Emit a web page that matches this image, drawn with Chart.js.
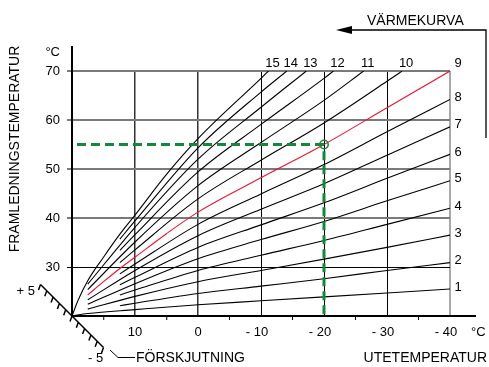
<!DOCTYPE html>
<html>
<head>
<meta charset="utf-8">
<script src="https://cdn.jsdelivr.net/npm/chart.js@4/dist/chart.umd.min.js"></script>
<style>
  html, body { margin: 0; padding: 0; background: #fff; }
</style>
</head>
<body>
<canvas id="chart" width="489" height="367"></canvas>
<script>
/* ================================
   Data
   ================================ */
const curveNames = ["1", "2", "3", "4", "5", "6", "7", "8", "9", "10", "11", "12", "13", "14", "15"];

// outdoor temp (x) and supply temp (y) for each heating curve
const k1x = [20, 17.5, 10, 0, -10, -20, -30, -40];
const k1y = [20, 20.5, 21.3, 22.3, 23.1, 23.9, 24.7, 25.5];
const k2x = [12.4, 10, 0, -10, -20, -30, -40];
const k2y = [22.1, 22.6, 24.6, 26.1, 27.6, 29.3, 30.9];
const k3x = [17.5, 10, 0, -10, -20, -30, -40];
const k3y = [21.4, 24.0, 27.0, 29.3, 31.6, 34.0, 36.5];
const k4x = [12.4, 10, 0, -10, -20, -30, -40];
const k4y = [24.3, 25.3, 29.3, 32.4, 35.4, 38.7, 42.0];
const k5x = [17.5, 10, 0, -10, -20, -30, -40];
const k5y = [22.4, 26.6, 31.7, 35.6, 39.3, 43.5, 47.6];
const k6x = [12.4, 10, 0, -10, -20, -30, -40];
const k6y = [26.4, 27.9, 34.0, 38.6, 43.1, 48.1, 53.0];
const k7x = [17.5, 10, 0, -10, -20, -30, -40];
const k7y = [23.3, 29.3, 36.4, 41.8, 47.0, 52.8, 58.6];
const k8x = [12.4, 10, 0, -10, -20, -30, -40];
const k8y = [28.6, 30.6, 38.7, 44.9, 50.9, 57.6, 64.2];
const k9x = [17.5, 15, 12.4, 10, 5, 0, -10, -20, -30, -40];
const k9y = [24.3, 27.0, 29.7, 32.0, 36.8, 41.2, 48.2, 55.0, 62.5, 70];
const k10x = [12.4, 10, 0, -10, -20, -30, -32.4];
const k10y = [30.9, 33.5, 43.9, 51.8, 59.4, 67.9, 70];
const k11x = [17.5, 10, 0, -10, -20, -26.3];
const k11y = [25.4, 35.1, 46.6, 55.4, 64.0, 70];
const k12x = [12.4, 10, 0, -10, -20, -21.5];
const k12y = [33.4, 36.6, 49.4, 59.1, 68.5, 70];
const k13x = [17.5, 10, 0, -10, -17.2];
const k13y = [26.5, 38.1, 52.0, 62.6, 70];
const k14x = [12.4, 10, 0, -10, -14.1];
const k14y = [35.7, 39.4, 54.3, 65.7, 70];
const k15x = [20, 19, 17.5, 15, 12.4, 10, 5, 0, -10, -11.2];
const k15y = [20, 23.3, 27.2, 32, 36.7, 40.6, 48.9, 56.2, 68.5, 70];

const curvesX = [k1x, k2x, k3x, k4x, k5x, k6x, k7x, k8x, k9x, k10x, k11x, k12x, k13x, k14x, k15x];
const curvesY = [k1y, k2y, k3y, k4y, k5y, k6y, k7y, k8y, k9y, k10y, k11y, k12y, k13y, k14y, k15y];
const redCurve = "9";

// example reading: -20 °C outside gives 55 °C on curve 9
const markOutdoor = -20;
const markSupply = 55;

const xLabelValues = [10, 0, -10, -20, -30, -40];
const shiftLabels = ["+ 5", "- 5"];

const FONT = "'Liberation Sans', Arial, Helvetica, sans-serif";
const GREEN = "#13883a";
const RED = "#e8142e";

/* ================================
   Datasets
   ================================ */
const datasets = [];

datasets.push({
  label: "mark-h",
  data: [{ x: 20, y: markSupply }, { x: markOutdoor, y: markSupply }],
  borderColor: GREEN, borderWidth: 3, borderDash: [9, 5], borderDashOffset: -5,
  pointRadius: 0, showLine: true, order: 0
});
datasets.push({
  label: "mark-v",
  data: [{ x: markOutdoor, y: markSupply - 1.4 }, { x: markOutdoor, y: 20 }],
  borderColor: GREEN, borderWidth: 3, borderDash: [9, 5],
  pointRadius: 0, showLine: true, order: 0
});
datasets.push({
  label: "mark-o",
  data: [{ x: markOutdoor, y: markSupply }],
  pointRadius: 4.2, pointBorderWidth: 1.5, pointBorderColor: GREEN,
  pointBackgroundColor: "rgba(255,255,255,0)", showLine: false, order: 0
});

curveNames.forEach((name, i) => {
  datasets.push({
    label: name,
    data: curvesX[i].map((x, j) => ({ x: x, y: curvesY[i][j] })),
    borderColor: name === redCurve ? RED : "#000",
    borderWidth: 1.1,
    pointRadius: 0,
    showLine: true,
    cubicInterpolationMode: "monotone",
    order: 1
  });
});

/* ================================
   Extra drawing: labels, axis extensions, shift scale
   ================================ */
const decor = {
  id: "decor",
  afterDraw(chart) {
    const ctx = chart.ctx;
    const xs = chart.scales.x;
    const ys = chart.scales.y;
    const ox = xs.getPixelForValue(20);
    const oy = ys.getPixelForValue(20);
    const right = xs.getPixelForValue(-40);
    const top = ys.getPixelForValue(70);

    ctx.save();
    ctx.strokeStyle = "#000";
    ctx.fillStyle = "#000";

    // axis extensions
    ctx.lineWidth = 2;
    ctx.beginPath();
    ctx.moveTo(ox, top);
    ctx.lineTo(ox, top - 25);
    ctx.moveTo(right, oy);
    ctx.lineTo(right + 26, oy);
    ctx.stroke();

    // x tick labels, digits centred on the tick
    ctx.font = "13px " + FONT;
    ctx.textBaseline = "middle";
    xLabelValues.forEach((v) => {
      const px = xs.getPixelForValue(v);
      const digits = String(Math.abs(v));
      const w = ctx.measureText(digits).width;
      ctx.textAlign = "right";
      ctx.fillText(v < 0 ? "- " + digits : digits, px + w / 2, oy + 16);
    });
    ctx.textAlign = "left";
    ctx.fillText("°C", right + 21, oy + 16);
    ctx.textAlign = "right";
    ctx.fillText("°C", ox - 12, top - 19);

    // curve numbers
    chart.data.datasets.forEach((ds) => {
      if (!curveNames.includes(ds.label)) return;
      const last = ds.data[ds.data.length - 1];
      const px = xs.getPixelForValue(last.x);
      const py = ys.getPixelForValue(last.y);
      ctx.textAlign = "center";
      if (last.y >= 70) {
        ctx.fillText(ds.label, last.x <= -40 ? px + 8 : px + 4, top - 8);
      } else {
        ctx.fillText(ds.label, px + 8, py - 2);
      }
    });

    // titles
    ctx.font = "14px " + FONT;
    ctx.textAlign = "right";
    ctx.fillText("UTETEMPERATUR", 487, 358);
    ctx.textAlign = "left";
    ctx.fillText("VÄRMEKURVA", 367, 21);
    ctx.fillText("FÖRSKJUTNING", 136, 358);

    ctx.save();
    ctx.translate(15, 149);
    ctx.rotate(-Math.PI / 2);
    ctx.textAlign = "center";
    ctx.fillText("FRAMLEDNINGSTEMPERATUR", 0, 0);
    ctx.restore();

    // curve arrow (top right)
    ctx.lineWidth = 1.3;
    ctx.beginPath();
    ctx.moveTo(346, 30);
    ctx.lineTo(486, 30);
    ctx.lineTo(486, 138);
    ctx.stroke();
    ctx.beginPath();
    ctx.moveTo(336, 30);
    ctx.lineTo(352, 26);
    ctx.lineTo(352, 34);
    ctx.closePath();
    ctx.fill();

    // shift scale (diagonal through the origin)
    const step = 6.3;
    ctx.lineWidth = 1.5;
    ctx.beginPath();
    ctx.moveTo(ox - 5 * step, oy - 5 * step);
    ctx.lineTo(ox + 5 * step, oy + 5 * step);
    for (let i = -5; i <= 5; i++) {
      const tx = ox + i * step;
      const ty = oy + i * step;
      ctx.moveTo(tx, ty);
      ctx.lineTo(tx - 2, ty + 5.5);
    }
    ctx.stroke();

    ctx.font = "13px " + FONT;
    ctx.textAlign = "right";
    ctx.fillText(shiftLabels[0], 35, 291);
    ctx.textAlign = "left";
    ctx.fillText(shiftLabels[1], 88, 358);

    // leader from -5 to the title
    ctx.lineWidth = 1;
    ctx.beginPath();
    ctx.moveTo(110, 350);
    ctx.lineTo(118, 357.5);
    ctx.lineTo(135, 357.5);
    ctx.stroke();

    ctx.restore();
  }
};

/* ================================
   Chart
   ================================ */
const isMajor = (v) => v % 10 === 0;

new Chart(document.getElementById("chart"), {
  type: "scatter",
  data: { datasets: datasets },
  options: {
    responsive: false,
    animation: false,
    devicePixelRatio: 1,
    layout: { padding: { left: 0, right: 39, top: 71, bottom: 31 } },
    plugins: { legend: { display: false }, tooltip: { enabled: false } },
    scales: {
      x: {
        type: "linear",
        reverse: true,
        min: -40,
        max: 20,
        afterFit(s) { s.height = 20; },
        ticks: { display: false, stepSize: 5 },
        grid: {
          tickLength: 4,
          color: (c) => {
            const v = c.tick.value;
            if (v === 20 || !isMajor(v)) return "rgba(0,0,0,0)";
            if (v === -40) return "#a8a8a8";
            if (v >= 0) return "#333";
            return "#000";
          },
          lineWidth: (c) => (c.tick.value === -40 ? 2 : c.tick.value >= 0 ? 1.5 : 1),
          tickColor: (c) => (isMajor(c.tick.value) ? "rgba(0,0,0,0)" : "#000"),
          tickWidth: 1
        },
        border: { color: "#000", width: 2 }
      },
      y: {
        min: 20,
        max: 70,
        afterFit(s) { s.width = 72; },
        ticks: {
          stepSize: 10,
          padding: 7,
          color: "#000",
          font: { family: FONT, size: 13 },
          callback: (v) => (v === 20 ? "" : v)
        },
        grid: {
          tickLength: 5,
          color: (c) => {
            const v = c.tick.value;
            if (v === 20) return "rgba(0,0,0,0)";
            if (v === 30) return "#000";
            return "#7a7a7a";
          },
          lineWidth: (c) => (c.tick.value === 30 ? 1 : 2)
        },
        border: { color: "#000", width: 2 }
      }
    }
  },
  plugins: [decor]
});
</script>
</body>
</html>
